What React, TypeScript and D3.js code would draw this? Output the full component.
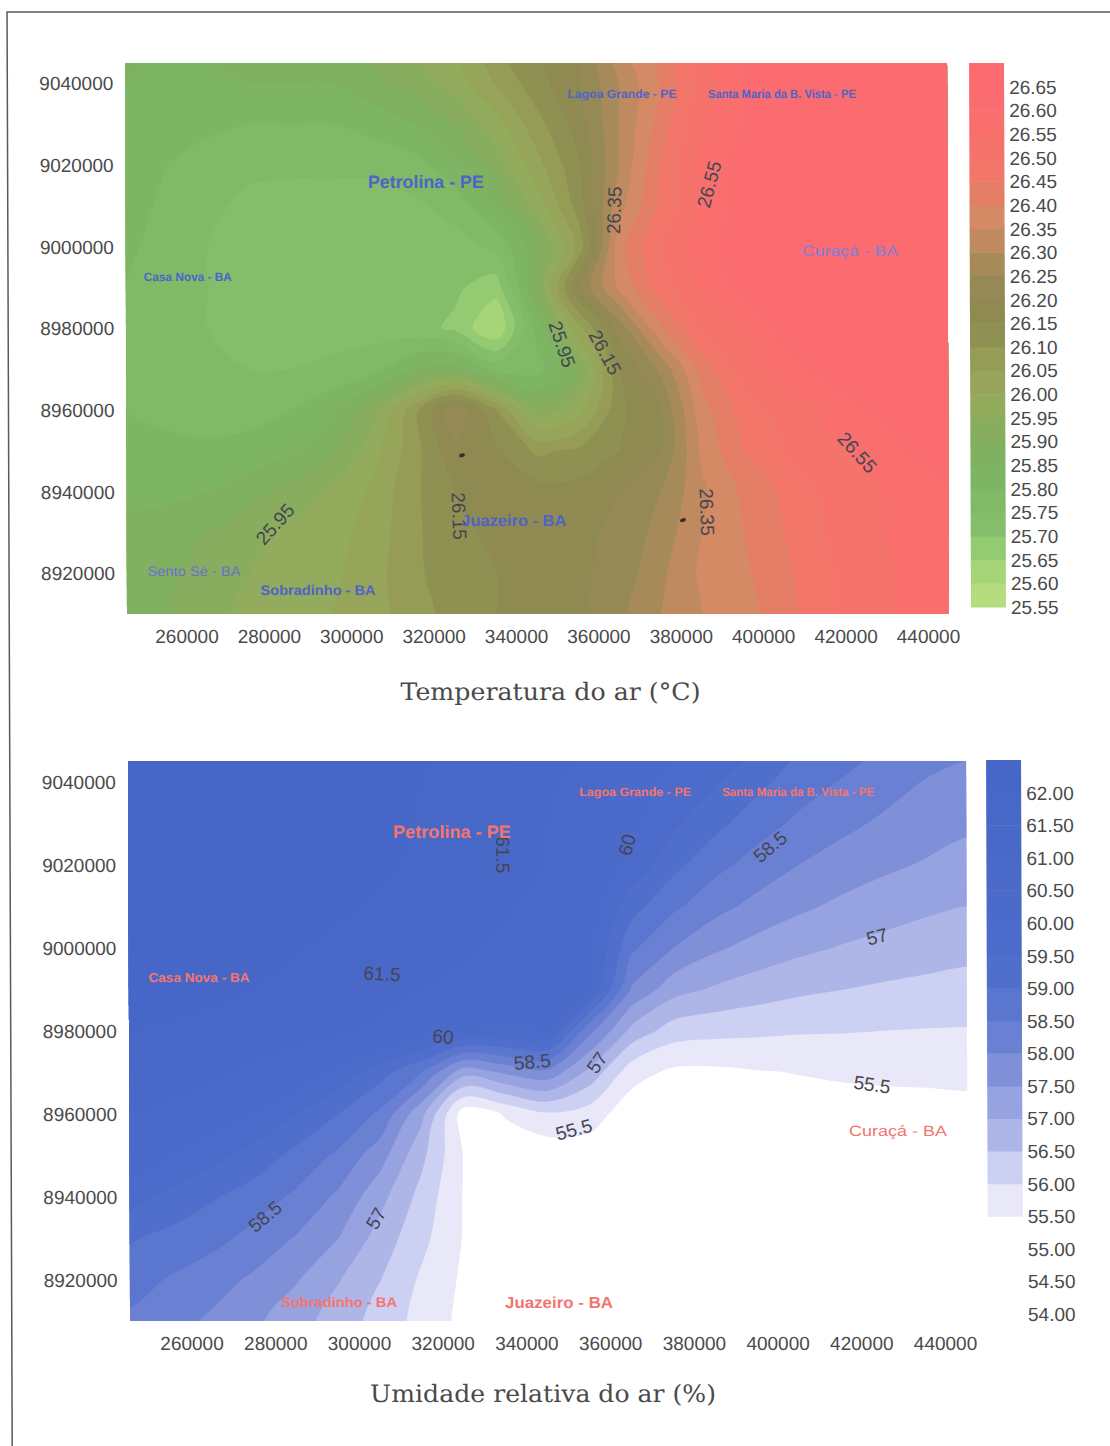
import React, { useEffect, useRef } from 'react';
import * as d3 from 'd3';

// Temperature and relative humidity maps, filled contours over UTM coordinates

const gridX = d3.range(245000, 445001, 10000);
const gridY = d3.range(9050000, 8909999, -10000);
const xTicks = [260000, 280000, 300000, 320000, 340000, 360000, 380000, 400000, 420000, 440000];
const yTicks = [9040000, 9020000, 9000000, 8980000, 8960000, 8940000, 8920000];

const tempGrid = [
  [25.85, 25.85, 25.86, 25.87, 25.88, 25.89, 25.92, 25.96, 26.0, 26.1, 26.15, 26.2, 26.34, 26.42, 26.54, 26.6, 26.6, 26.62, 26.62, 26.62, 26.62],
  [25.85, 25.84, 25.84, 25.85, 25.85, 25.85, 25.88, 25.92, 25.97, 26.05, 26.13, 26.19, 26.3, 26.4, 26.52, 26.6, 26.62, 26.63, 26.63, 26.63, 26.63],
  [25.84, 25.82, 25.81, 25.8, 25.8, 25.8, 25.82, 25.85, 25.9, 25.98, 26.08, 26.17, 26.3, 26.42, 26.54, 26.6, 26.63, 26.64, 26.64, 26.64, 26.64],
  [25.83, 25.8, 25.78, 25.76, 25.76, 25.76, 25.76, 25.78, 25.83, 25.92, 26.03, 26.14, 26.3, 26.45, 26.56, 26.62, 26.64, 26.65, 26.65, 26.65, 26.65],
  [25.82, 25.79, 25.76, 25.74, 25.73, 25.73, 25.73, 25.74, 25.77, 25.85, 25.97, 26.12, 26.33, 26.46, 26.55, 26.62, 26.65, 26.66, 26.66, 26.66, 26.66],
  [25.81, 25.78, 25.75, 25.73, 25.72, 25.72, 25.72, 25.72, 25.73, 25.76, 25.88, 26.06, 26.38, 26.5, 26.58, 26.63, 26.66, 26.67, 26.67, 26.67, 26.67],
  [25.8, 25.78, 25.75, 25.73, 25.72, 25.72, 25.72, 25.72, 25.71, 25.67, 25.9, 26.2, 26.36, 26.47, 26.55, 26.62, 26.66, 26.67, 26.67, 26.67, 26.67],
  [25.8, 25.77, 25.75, 25.74, 25.73, 25.73, 25.73, 25.72, 25.69, 25.6, 25.82, 26.03, 26.22, 26.39, 26.5, 26.55, 26.62, 26.65, 26.65, 26.66, 26.66],
  [25.8, 25.78, 25.76, 25.75, 25.75, 25.76, 25.78, 25.85, 25.87, 25.78, 25.78, 25.9, 26.15, 26.26, 26.42, 26.52, 26.58, 26.62, 26.65, 26.65, 26.65],
  [25.8, 25.79, 25.78, 25.78, 25.8, 25.84, 25.93, 26.08, 26.24, 26.1, 25.92, 25.98, 26.14, 26.2, 26.38, 26.47, 26.52, 26.56, 26.6, 26.63, 26.64],
  [25.82, 25.81, 25.81, 25.82, 25.84, 25.89, 25.98, 26.08, 26.19, 26.16, 26.09, 26.11, 26.15, 26.2, 26.36, 26.45, 26.5, 26.54, 26.56, 26.6, 26.62],
  [25.84, 25.84, 25.85, 25.88, 25.92, 25.96, 26.01, 26.09, 26.15, 26.17, 26.17, 26.17, 26.2, 26.25, 26.34, 26.41, 26.46, 26.51, 26.54, 26.58, 26.6],
  [25.86, 25.87, 25.9, 25.94, 25.96, 25.98, 26.02, 26.09, 26.14, 26.16, 26.18, 26.19, 26.21, 26.27, 26.35, 26.4, 26.45, 26.5, 26.53, 26.57, 26.59],
  [25.87, 25.89, 25.93, 25.95, 25.97, 25.99, 26.03, 26.09, 26.13, 26.15, 26.17, 26.19, 26.22, 26.29, 26.36, 26.39, 26.44, 26.49, 26.53, 26.56, 26.58],
  [25.86, 25.9, 25.94, 25.96, 25.98, 26.0, 26.03, 26.08, 26.12, 26.15, 26.17, 26.19, 26.24, 26.3, 26.35, 26.38, 26.43, 26.49, 26.53, 26.56, 26.58],
];

const humidGrid = [
  [62.3, 62.35, 62.4, 62.4, 62.4, 62.35, 62.3, 62.1, 61.85, 61.55, 61.2, 61.0, 60.55, 60.15, 59.9, 59.6, 59.1, 58.85, 58.55, 58.35, 58.15],
  [62.3, 62.35, 62.4, 62.4, 62.4, 62.3, 62.2, 62.0, 61.8, 61.5, 61.1, 60.8, 60.3, 59.85, 59.55, 59.15, 58.75, 58.48, 58.23, 57.98, 57.85],
  [62.3, 62.3, 62.35, 62.35, 62.35, 62.3, 62.15, 61.95, 61.75, 61.5, 61.0, 60.6, 60.1, 59.6, 59.15, 58.72, 58.4, 58.14, 57.92, 57.75, 57.6],
  [62.3, 62.3, 62.3, 62.3, 62.3, 62.25, 62.1, 61.9, 61.7, 61.5, 60.95, 60.45, 59.87, 59.15, 58.65, 58.3, 58.0, 57.78, 57.6, 57.46, 57.31],
  [62.25, 62.25, 62.25, 62.25, 62.2, 62.1, 61.9, 61.7, 61.45, 61.1, 60.7, 60.3, 59.2, 58.6, 58.17, 57.85, 57.6, 57.4, 57.25, 57.1, 57.0],
  [62.2, 62.2, 62.2, 62.15, 62.05, 61.85, 61.6, 61.35, 61.1, 60.8, 60.45, 60.15, 58.6, 58.0, 57.58, 57.32, 57.12, 56.97, 56.84, 56.74, 56.65],
  [62.15, 62.15, 62.1, 62.0, 61.8, 61.55, 61.3, 61.0, 60.8, 60.5, 60.3, 60.0, 57.95, 57.2, 56.93, 56.75, 56.6, 56.51, 56.43, 56.37, 56.32],
  [62.0, 61.95, 61.85, 61.55, 61.35, 61.1, 60.8, 60.3, 60.0, 59.95, 60.0, 58.15, 56.85, 56.25, 56.15, 56.1, 56.05, 56.03, 56.0, 55.98, 55.97],
  [61.5, 61.4, 61.2, 60.75, 60.4, 59.85, 59.2, 58.5, 57.2, 57.6, 57.85, 56.85, 55.7, 55.4, 55.4, 55.47, 55.52, 55.58, 55.6, 55.62, 55.67],
  [61.0, 60.8, 60.4, 60.0, 59.5, 59.0, 58.4, 57.1, 55.2, 55.55, 55.95, 55.75, 55.2, 55.2, 55.2, 55.2, 55.25, 55.25, 55.3, 55.3, 55.3],
  [60.35, 60.0, 59.65, 59.3, 58.85, 58.4, 57.7, 56.6, 55.45, 55.2, 55.15, 55.2, 55.1, 55.1, 55.1, 55.1, 55.1, 55.1, 55.1, 55.1, 55.1],
  [59.7, 59.35, 59.05, 58.75, 58.4, 57.9, 57.15, 56.3, 55.45, 55.1, 55.1, 55.1, 55.1, 55.1, 55.1, 55.1, 55.1, 55.1, 55.1, 55.1, 55.1],
  [59.05, 58.85, 58.65, 58.33, 57.95, 57.5, 56.77, 56.12, 55.45, 55.1, 55.1, 55.1, 55.1, 55.1, 55.1, 55.1, 55.1, 55.1, 55.1, 55.1, 55.1],
  [58.7, 58.45, 58.2, 57.9, 57.53, 57.02, 56.5, 55.9, 55.4, 55.1, 55.1, 55.1, 55.1, 55.1, 55.1, 55.1, 55.1, 55.1, 55.1, 55.1, 55.1],
  [58.4, 58.2, 57.9, 57.58, 57.2, 56.75, 56.3, 55.8, 55.35, 55.1, 55.1, 55.1, 55.1, 55.1, 55.1, 55.1, 55.1, 55.1, 55.1, 55.1, 55.1],
];

// colour of each band, lowest level first
const tempLevels = d3.range(0, 23).map(i => +(25.55 + i * 0.05).toFixed(2));
const tempColors = [
  '#b5dd7e', '#a6d578', '#94ca72', '#84be6a', '#80ba67', '#7db564', '#7fb161', '#88ad5e',
  '#92ab5c', '#96a55a', '#949c56', '#8f9152', '#8e8a52', '#958a55', '#a68a5a', '#c08a60',
  '#d48a64', '#e57e67', '#f2766a', '#f5736b', '#f86f6d', '#fa6c6f', '#fb6b70',
];
const tempBarTicks = d3.range(0, 23).map(i => (25.55 + i * 0.05).toFixed(2));

const humidLevels = d3.range(0, 17).map(i => 54 + i * 0.5);
const humidColors = [
  '#ffffff', '#ffffff', '#ffffff', '#e8e8f8', '#ccd0f2', '#aeb6e8', '#97a2e0', '#7f90d9', '#6a80d3',
  '#5a76cf', '#506ecb', '#4d6bca', '#4b6ac9', '#4a69c9', '#4968c8', '#4868c8', '#4767c8',
];
const humidBarTicks = d3.range(0, 17).map(i => (54 + i * 0.5).toFixed(2));

const tempPlaces = ['Lagoa Grande - PE', 'Santa Maria da B. Vista - PE', 'Petrolina - PE', 'Curaçá - BA', 'Casa Nova - BA', 'Juazeiro - BA', 'Sento Sé - BA', 'Sobradinho - BA'];
const tempPlaceX = [365900, 404800, 318100, 421200, 260100, 339200, 261350, 291500];
const tempPlaceY = [9037550, 9037550, 9016000, 8998900, 8992500, 8933000, 8920500, 8915800];

const humidPlaces = ['Lagoa Grande - PE', 'Santa Maria da B. Vista - PE', 'Petrolina - PE', 'Curaçá - BA', 'Casa Nova - BA', 'Juazeiro - BA', 'Sobradinho - BA'];
const humidPlaceX = [366000, 404900, 322250, 428460, 261750, 347400, 294900];
const humidPlaceY = [9037600, 9037600, 9028000, 8955900, 8992800, 8914500, 8914500];

const tempLabels = ['26.35', '26.55', '25.95', '26.15', '25.95', '26.15', '26.35', '26.55'];
const tempLabelX = [363860, 387000, 351100, 361550, 281100, 325900, 386200, 422800];
const tempLabelY = [9008900, 9015300, 8976100, 8974100, 8932000, 8934000, 8935000, 8949600];
const tempLabelAngle = [-88, -75, 72, 62, -48, 88, 88, 48];

const humidLabels = ['61.5', '60', '58.5', '57', '61.5', '60', '58.5', '57', '55.5', '55.5', '58.5', '57'];
const humidLabelX = [334400, 364000, 398150, 423600, 305450, 319950, 341200, 356700, 422300, 351100, 277300, 303800];
const humidLabelY = [9022400, 9024800, 9024300, 9002650, 8993700, 8978550, 8972500, 8972300, 8967000, 8956150, 8935200, 8934700];
const humidLabelAngle = [90, -75, -40, -15, 3, 5, -5, -55, 8, -15, -40, -60];

const specksX = [326650, 380350];
const specksY = [8948900, 8933000];

// the scan leans a little, everything is sheared by this
const SHEAR = 0.0036;
const SANS = '"Liberation Sans", Arial, sans-serif';
const TEXT = '#4a4a4a';

// repeat the edge nodes once so contours leave the plot straight, the clip hides the extra ring
const padGrid = grid => {
  const rows = grid.map(r => [r[0], ...r, r[r.length - 1]]);
  return [rows[0], ...rows, rows[rows.length - 1]];
};

const drawPanel = (root, id, p) => {
  const x = d3.scaleLinear().domain([245000, 445000]).range([p.left, p.right]);
  const y = d3.scaleLinear().domain([8910000, 9045000]).range([p.bottom, p.top]);
  const xTick = d3.scaleLinear().domain([260000, 440000]).range(p.xTickRange);
  const g = root.append('g');

  g.append('clipPath').attr('id', id).append('rect')
    .attr('x', p.left).attr('y', p.top)
    .attr('width', p.right - p.left).attr('height', p.bottom - p.top);

  const padded = padGrid(p.grid);
  const contours = d3.contours()
    .size([padded[0].length, padded.length])
    .thresholds(p.levels)(padded.flat());

  // d3 puts grid node i at i + 0.5, and the padding moves everything one node on
  const px = c => x(gridX[0] + (c - 1.5) * 10000);
  const py = c => y(gridY[0] - (c - 1.5) * 10000);
  const ring = d3.line().x(d => px(d[0])).y(d => py(d[1])).curve(d3.curveCatmullRomClosed.alpha(0.5));

  const map = g.append('g').attr('clip-path', `url(#${id})`);
  map.append('rect')
    .attr('x', p.left).attr('y', p.top)
    .attr('width', p.right - p.left).attr('height', p.bottom - p.top)
    .attr('fill', p.colors[0]);

  contours.forEach((c, i) => {
    if (!c.coordinates.length) return;
    const d = c.coordinates
      .flatMap(poly => poly.map(r => ring(r.slice(0, -1))))
      .join('');
    map.append('path').attr('d', d).attr('fill', p.colors[i]).attr('fill-rule', 'evenodd');
  });

  // axis numbers
  g.selectAll('.xt').data(xTicks).enter().append('text')
    .attr('x', d => xTick(d))
    .attr('y', p.xTickY)
    .attr('text-anchor', 'middle')
    .attr('font-family', SANS).attr('font-size', 19).attr('fill', TEXT)
    .text(d => d);
  g.selectAll('.yt').data(yTicks).enter().append('text')
    .attr('x', p.yTickX)
    .attr('y', d => y(d) + 7)
    .attr('text-anchor', 'end')
    .attr('font-family', SANS).attr('font-size', 19).attr('fill', TEXT)
    .text(d => d);

  // colour bar
  const bar = d3.scaleLinear().domain(p.barDomain).range(p.barRange);
  p.levels.forEach((lv, i) => {
    const hi = i + 1 < p.levels.length ? p.levels[i + 1] : p.barDomain[1];
    g.append('rect')
      .attr('x', p.barX).attr('width', 35)
      .attr('y', bar(hi)).attr('height', bar(lv) - bar(hi) + 0.5)
      .attr('fill', p.colors[i]);
  });
  p.barTicks.forEach(t => {
    g.append('text')
      .attr('x', p.barX + 40).attr('y', bar(+t) + 7)
      .attr('font-family', SANS).attr('font-size', 19).attr('fill', TEXT)
      .text(t);
  });

  // contour numbers
  p.labels.forEach((t, i) => {
    g.append('text')
      .attr('transform', `translate(${x(p.labelX[i])},${y(p.labelY[i])}) rotate(${p.labelAngle[i]})`)
      .attr('text-anchor', 'middle').attr('dy', '0.35em')
      .attr('font-family', SANS).attr('font-size', 19).attr('fill', '#454550')
      .text(t);
  });

  // town names
  p.places.forEach((t, i) => {
    const s = p.placeStyle[t];
    g.append('text')
      .attr('x', x(p.placeX[i])).attr('y', y(p.placeY[i]))
      .attr('dy', '0.35em').attr('text-anchor', 'middle')
      .attr('font-family', SANS).attr('font-size', s[0]).attr('font-weight', s[1])
      .attr('textLength', s[2]).attr('lengthAdjust', 'spacingAndGlyphs')
      .attr('fill', s[3] || p.placeColor)
      .text(t);
  });

  g.append('text')
    .attr('x', p.titleX).attr('y', p.titleY)
    .attr('font-family', '"DejaVu Serif", serif').attr('font-size', 24).attr('fill', TEXT)
    .attr('textLength', p.titleW).attr('lengthAdjust', 'spacingAndGlyphs')
    .text(p.title);

  return { x, y, g };
};

const App = () => {
  const svgRef = useRef();

  useEffect(() => {
    const svg = d3.select(svgRef.current);
    svg.selectAll('*').remove();
    svg.append('rect').attr('width', 1110).attr('height', 1446).attr('fill', '#ffffff');
    const root = svg.append('g').attr('transform', `matrix(1 0 ${SHEAR} 1 0 0)`);

    // scan frame
    root.append('path')
      .attr('d', 'M7,1446V12H1120')
      .attr('fill', 'none').attr('stroke', '#5a5a5a').attr('stroke-width', 1.5);

    const top = drawPanel(root, 'clipTemp', {
      left: 124.8, right: 946.8, top: 63, bottom: 614,
      grid: tempGrid, levels: tempLevels, colors: tempColors,
      xTickRange: [184.7, 926.2], xTickY: 643, yTickX: 113,
      barX: 968.8, barDomain: [25.55, 26.7], barRange: [607, 63], barTicks: tempBarTicks,
      labels: tempLabels, labelX: tempLabelX, labelY: tempLabelY, labelAngle: tempLabelAngle,
      places: tempPlaces, placeX: tempPlaceX, placeY: tempPlaceY, placeColor: '#4f63c8',
      placeStyle: {
        'Lagoa Grande - PE': [12, 700, 109], 'Santa Maria da B. Vista - PE': [12, 700, 148],
        'Petrolina - PE': [18, 700, 116], 'Curaçá - BA': [15, 400, 96, '#7f7fdc'],
        'Casa Nova - BA': [12, 700, 88], 'Juazeiro - BA': [16, 700, 105],
        'Sento Sé - BA': [14, 400, 93, '#6a70d0'], 'Sobradinho - BA': [14, 700, 115],
      },
      title: 'Temperatura do ar (°C)', titleX: 398, titleY: 700, titleW: 300,
    });
    top.g.selectAll('.speck').data(specksX).enter().append('ellipse')
      .attr('cx', d => top.x(d))
      .attr('cy', (d, i) => top.y(specksY[i]))
      .attr('rx', 3).attr('ry', 1.8)
      .attr('transform', (d, i) => `rotate(-20 ${top.x(d)} ${top.y(specksY[i])})`)
      .attr('fill', '#3c2c20');

    drawPanel(root, 'clipHumid', {
      left: 125.3, right: 963.3, top: 761, bottom: 1321,
      grid: humidGrid, levels: humidLevels, colors: humidColors,
      xTickRange: [187.2, 940.7], xTickY: 1350, yTickX: 113,
      barX: 983.3, barDomain: [54, 62.5], barRange: [1314, 760], barTicks: humidBarTicks,
      labels: humidLabels, labelX: humidLabelX, labelY: humidLabelY, labelAngle: humidLabelAngle,
      places: humidPlaces, placeX: humidPlaceX, placeY: humidPlaceY, placeColor: '#f4756f',
      placeStyle: {
        'Lagoa Grande - PE': [12, 700, 112], 'Santa Maria da B. Vista - PE': [12, 700, 152],
        'Petrolina - PE': [18, 700, 118], 'Curaçá - BA': [15, 400, 98],
        'Casa Nova - BA': [13, 700, 101], 'Juazeiro - BA': [16, 700, 108],
        'Sobradinho - BA': [14, 700, 116],
      },
      title: 'Umidade relativa do ar (%)', titleX: 365, titleY: 1402, titleW: 346,
    });
  }, []);

  return (
    <svg
      ref={svgRef}
      width="1110"
      height="1446"
      style={{ position: 'absolute', left: 0, top: 0, display: 'block' }}
    />
  );
};

export default App;
